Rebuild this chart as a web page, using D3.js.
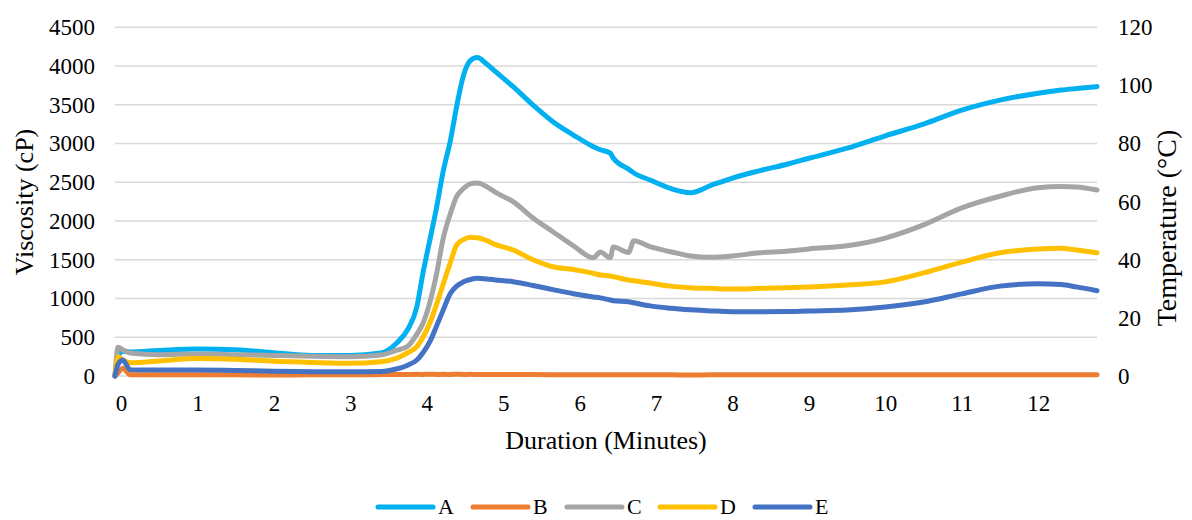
<!DOCTYPE html>
<html>
<head>
<meta charset="utf-8">
<script src="https://cdn.jsdelivr.net/npm/d3@7"></script>
<style>
  body { margin: 0; background: #fff; }
  svg { display: block; }
  svg text { font-family: "Liberation Serif", "Times New Roman", "DejaVu Serif", serif; }
</style>
</head>
<body>
<svg width="1192" height="520"></svg>
<script>
// minutes
var times = [-0.08, -0.04, 0.02, 0.12, 0.5, 1.0, 1.5, 2.0, 2.5, 3.0, 3.4, 3.6, 3.75, 3.87, 3.95, 4.04, 4.13, 4.21, 4.31, 4.39,
  4.48, 4.57, 4.66, 4.78, 4.9, 5.13, 5.39, 5.65, 5.92, 6.18, 6.27, 6.4, 6.44, 6.64, 6.71, 6.92, 7.19, 7.45, 7.72, 8.0,
  8.36, 8.7, 9.0, 9.5, 10.0, 10.5, 11.0, 11.5, 12.0, 12.3, 12.5, 12.77];

var seriesA = [0, 250, 320, 310, 330, 350, 340, 300, 265, 265, 297, 420, 600, 894, 1329, 1755, 2185, 2620, 3046, 3475,
  3880, 4070, 4110, 4030, 3927, 3733, 3497, 3282, 3110, 2959, 2920, 2876, 2813, 2670, 2620, 2530, 2420, 2365, 2460, 2555,
  2650, 2730, 2810, 2940, 3100, 3250, 3430, 3560, 3650, 3690, 3710, 3735];

var seriesB = [0, 40, 100, 15, 15, 16, 15, 14, 15, 16, 18, 20, 20, 21, 20, 22, 20, 21, 20, 22,
  20, 21, 20, 20, 19, 20, 18, 17, 16, 16, 15, 16, 15, 15, 16, 15, 15, 14, 15, 15,
  16, 15, 15, 16, 15, 15, 16, 15, 15, 16, 15, 15];

var seriesC = [0, 370, 340, 297, 275, 285, 275, 265, 255, 250, 271, 330, 385, 540, 680, 950, 1329, 1755, 2100, 2314,
  2420, 2480, 2490, 2445, 2370, 2250, 2040, 1862, 1680, 1525, 1600, 1525, 1665, 1595, 1746, 1669, 1604, 1549, 1531, 1549,
  1591, 1610, 1640, 1680, 1780, 1950, 2170, 2320, 2430, 2445, 2440, 2400];

var seriesD = [0, 250, 210, 170, 195, 225, 215, 190, 175, 165, 185, 228, 300, 378, 500, 684, 930, 1170, 1470, 1690,
  1760, 1790, 1785, 1750, 1695, 1626, 1500, 1410, 1375, 1325, 1303, 1290, 1282, 1239, 1230, 1200, 1160, 1140, 1131, 1122,
  1131, 1140, 1150, 1175, 1215, 1330, 1470, 1590, 1640, 1650, 1625, 1590];

var seriesE = [0, 150, 206, 80, 78, 78, 72, 60, 56, 55, 58, 90, 140, 206, 300, 443, 650, 840, 1067, 1160,
  1215, 1245, 1260, 1252, 1240, 1217, 1168, 1115, 1062, 1020, 1008, 980, 972, 958, 945, 905, 875, 855, 840, 830,
  830, 832, 840, 852, 890, 955, 1060, 1160, 1190, 1180, 1150, 1100];

var names = ['A', 'B', 'C', 'D', 'E'];
var colors = ['#00B0F0', '#ED7D31', '#A5A5A5', '#FFC000', '#4472C4'];
var xTicks = [0, 1, 2, 3, 4, 5, 6, 7, 8, 9, 10, 11, 12];
var yTicks = [0, 500, 1000, 1500, 2000, 2500, 3000, 3500, 4000, 4500];
var y2Ticks = [0, 20, 40, 60, 80, 100, 120];

var allSeries = [seriesA, seriesB, seriesC, seriesD, seriesE];
var fontStack = '"Liberation Serif", "Times New Roman", "DejaVu Serif", serif';

var svg = d3.select('svg');

var x = d3.scaleLinear().domain([-0.08, 12.77]).range([115, 1097]);
var y = d3.scaleLinear().domain([0, 4500]).range([376, 27.3]);
var y2 = d3.scaleLinear().domain([0, 120]).range([376, 27.3]);

// gridlines
svg.append('g')
  .selectAll('line')
  .data(yTicks)
  .enter()
  .append('line')
  .attr('x1', x.range()[0])
  .attr('x2', x.range()[1])
  .attr('y1', (d) => y(d))
  .attr('y2', (d) => y(d))
  .attr('stroke', '#d9d9d9')
  .attr('stroke-width', 1.5);

// axes, no domain lines or tick marks
var yAxis = svg.append('g')
  .attr('transform', 'translate(95,0)')
  .call(d3.axisLeft(y).tickValues(yTicks).tickFormat(d3.format('d')).tickSize(0).tickPadding(0));
yAxis.select('.domain').remove();

var y2Axis = svg.append('g')
  .attr('transform', 'translate(1118,0)')
  .call(d3.axisRight(y2).tickValues(y2Ticks).tickFormat(d3.format('d')).tickSize(0).tickPadding(0));
y2Axis.select('.domain').remove();

var xAxis = svg.append('g')
  .attr('transform', 'translate(0,395)')
  .call(d3.axisBottom(x).tickValues(xTicks).tickFormat(d3.format('d')).tickSize(0).tickPadding(0));
xAxis.select('.domain').remove();

svg.selectAll('g')
  .attr('font-family', fontStack);

svg.selectAll('.tick text')
  .attr('font-family', fontStack)
  .attr('font-size', 23)
  .attr('fill', '#000');

// axis titles
svg.append('text')
  .attr('transform', 'translate(33,202) rotate(-90)')
  .attr('text-anchor', 'middle')
  .attr('font-family', fontStack)
  .attr('font-size', 26)
  .text('Viscosity (cP)');

svg.append('text')
  .attr('transform', 'translate(1176,228) rotate(-90)')
  .attr('text-anchor', 'middle')
  .attr('font-family', fontStack)
  .attr('font-size', 28)
  .text('Temperature (°C)');

svg.append('text')
  .attr('x', 606)
  .attr('y', 449)
  .attr('text-anchor', 'middle')
  .attr('font-family', fontStack)
  .attr('font-size', 26)
  .text('Duration (Minutes)');

// series lines
var line = d3.line()
  .x((d, i) => x(times[i]))
  .y((d) => y(d))
  .curve(d3.curveMonotoneX);

svg.append('g')
  .selectAll('path')
  .data([1, 0, 2, 3, 4])
  .enter()
  .append('path')
  .attr('d', (k) => line(allSeries[k]))
  .attr('fill', 'none')
  .attr('stroke', (k) => colors[k])
  .attr('stroke-width', 5)
  .attr('stroke-linejoin', 'round')
  .attr('stroke-linecap', 'round');

// legend
var legendX = [378, 473, 567, 660, 755];
var legend = svg.append('g')
  .selectAll('g')
  .data(names)
  .enter()
  .append('g')
  .attr('transform', (d, i) => 'translate(' + legendX[i] + ',507)');

legend.append('line')
  .attr('x1', 0)
  .attr('x2', 55)
  .attr('stroke', (d, i) => colors[i])
  .attr('stroke-width', 5)
  .attr('stroke-linecap', 'round');

legend.append('text')
  .attr('x', 60)
  .attr('y', 7)
  .attr('font-family', fontStack)
  .attr('font-size', 22)
  .text((d) => d);
</script>
</body>
</html>
